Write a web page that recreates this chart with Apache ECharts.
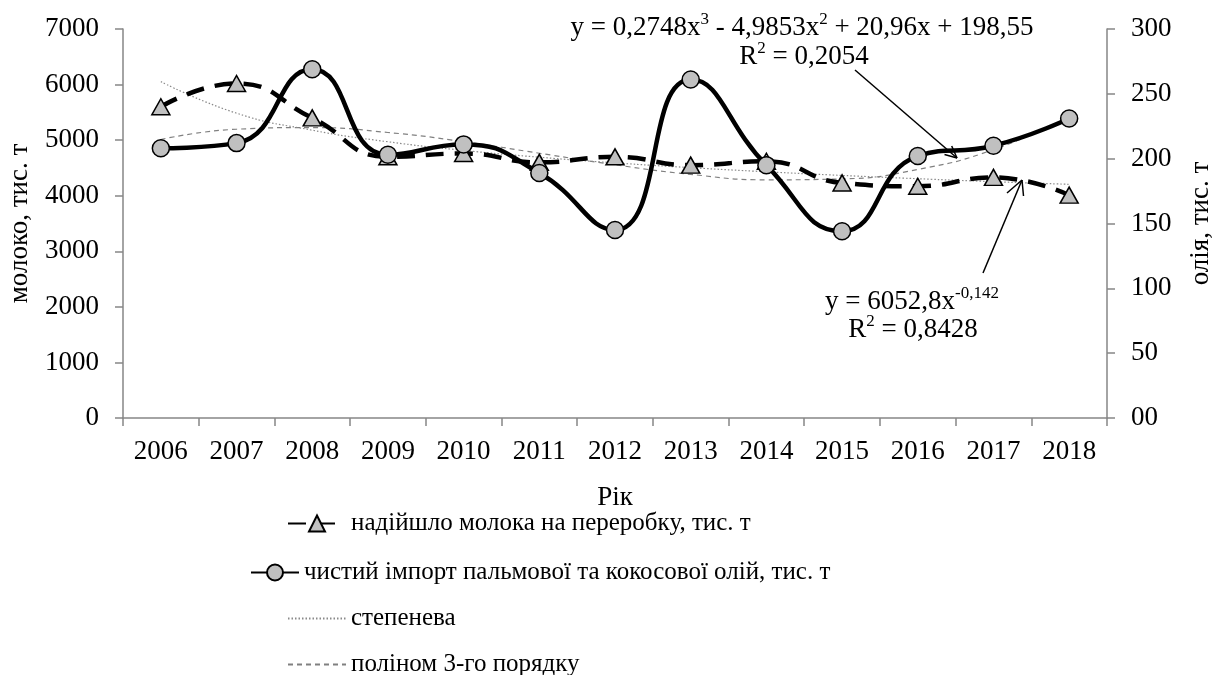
<!DOCTYPE html>
<html><head><meta charset="utf-8">
<script src="https://cdn.jsdelivr.net/npm/echarts@6/dist/echarts.min.js"></script>
<style>html,body{margin:0;padding:0;background:#fff}#c{width:1212px;height:675px}</style>
</head><body><div id="c"></div>
<script>
const years = ['2006','2007','2008','2009','2010','2011','2012','2013','2014','2015','2016','2017','2018'];
const milk = [5600, 6020, 5400, 4700, 4760, 4600, 4700, 4550, 4620, 4230, 4170, 4330, 4010];
const oil = [208, 212, 269, 203, 211, 189, 145, 261, 195, 144, 202, 210, 231];
const powerTrend = [6053, 5485, 5179, 4971, 4816, 4693, 4591, 4505, 4431, 4365, 4306, 4253, 4205];
const polyTrend = [214.8, 222.7, 224.0, 220.2, 213.1, 204.2, 195.3, 187.9, 183.7, 184.4, 191.7, 207.0, 232.3];
const leftTicks = ['0','1000','2000','3000','4000','5000','6000','7000'];
const rightTicks = ['00','50','100','150','200','250','300'];
const names = ['надійшло молока на переробку, тис. т', 'чистий імпорт пальмової та кокосової олій, тис. т', 'степенева', 'поліном 3-го порядку'];

const FF = 'Liberation Serif';
const FS = 27;
const axisGray = '#868686';
const chart = echarts.init(document.getElementById('c'), null, {renderer: 'canvas'});

function legendRow(name, left, top, w, hideSymbol) {
  const l = {
    show: true, orient: 'horizontal', left: left, top: top, padding: 0,
    itemWidth: w, itemHeight: 20, itemGap: 0, selectedMode: false,
    data: [name],
    textStyle: {fontFamily: FF, fontSize: 25, color: '#000'}
  };
  if (hideSymbol) l.itemStyle = {opacity: 0, borderWidth: 0, color: 'rgba(0,0,0,0)'};
  return l;
}
const rich = {
  m: {fontFamily: FF, fontSize: FS, fill: '#000', lineHeight: 30, verticalAlign: 'bottom'},
  s: {fontFamily: FF, fontSize: 17, fill: '#000', lineHeight: 24, verticalAlign: 'top'}
};
function eqText(t, x, y) {
  return {type: 'text', x: x, y: y, z: 100, style: {text: t, align: 'center', verticalAlign: 'middle', rich: rich, fontFamily: FF, fontSize: FS, fill: '#000'}};
}
function seg(x1, y1, x2, y2) {
  return {type: 'line', z: 100, shape: {x1: x1, y1: y1, x2: x2, y2: y2}, style: {stroke: '#000', lineWidth: 1.5}};
}

const option = {
  animation: false,
  backgroundColor: '#fff',
  textStyle: {fontFamily: FF},
  grid: {left: 123, right: 105, top: 29, bottom: 257, containLabel: false, outerBoundsMode: 'none'},
  legend: [
    legendRow(names[0], 287, 511, 58, false),
    legendRow(names[1], 250, 560, 48, false),
    legendRow(names[2], 287, 606, 58, true),
    legendRow(names[3], 287, 652, 58, true)
  ],
  xAxis: {
    type: 'category', data: years, boundaryGap: true,
    name: 'Рік', nameLocation: 'middle', nameGap: 66,
    nameTextStyle: {fontFamily: FF, fontSize: FS, color: '#000'},
    axisLine: {show: true, lineStyle: {color: axisGray, width: 1.5}},
    axisTick: {show: true, inside: false, length: 8, alignWithLabel: false, lineStyle: {color: axisGray, width: 1.5}},
    axisLabel: {fontFamily: FF, fontSize: FS, color: '#000', margin: 20, interval: 0},
    splitLine: {show: false}
  },
  yAxis: [
    {
      type: 'value', min: 0, max: 7000, interval: 1000, position: 'left',
      name: 'молоко, тис. т', nameLocation: 'middle', nameRotate: 90, nameGap: 90,
      nameTextStyle: {fontFamily: FF, fontSize: FS, color: '#000'},
      axisLine: {show: true, lineStyle: {color: axisGray, width: 1.5}},
      axisTick: {show: true, inside: false, length: 8, lineStyle: {color: axisGray, width: 1.5}},
      axisLabel: {fontFamily: FF, fontSize: FS, color: '#000', margin: 24, formatter: (v) => leftTicks[Math.round(v / 1000)]},
      splitLine: {show: false}
    },
    {
      type: 'value', min: 0, max: 300, interval: 50, position: 'right',
      name: 'олія, тис. т', nameLocation: 'middle', nameRotate: 90, nameGap: 80,
      nameTextStyle: {fontFamily: FF, fontSize: FS, color: '#000'},
      axisLine: {show: true, lineStyle: {color: axisGray, width: 1.5}},
      axisTick: {show: true, inside: false, length: 8, lineStyle: {color: axisGray, width: 1.5}},
      axisLabel: {fontFamily: FF, fontSize: FS, color: '#000', margin: 24, formatter: (v) => rightTicks[Math.round(v / 50)]},
      splitLine: {show: false}
    }
  ],
  series: [
    {
      name: names[3], type: 'line', yAxisIndex: 1, data: polyTrend, smooth: true,
      symbol: 'none', showSymbol: false, z: 2,
      itemStyle: {color: '#808080'},
      lineStyle: {color: '#808080', width: 1.2, type: [5, 4]}
    },
    {
      name: names[2], type: 'line', yAxisIndex: 0, data: powerTrend, smooth: true,
      symbol: 'none', showSymbol: false, z: 2,
      itemStyle: {color: '#8a8a8a'},
      lineStyle: {color: '#8a8a8a', width: 1.2, type: [1.5, 2]}
    },
    {
      name: names[0], type: 'line', yAxisIndex: 0, data: milk, smooth: 0.5,
      symbol: 'triangle', symbolSize: [18, 16], showAllSymbol: true, z: 3,
      itemStyle: {color: '#c0c0c0', borderColor: '#000', borderWidth: 1.5},
      lineStyle: {color: '#000', width: 4.5, type: [18, 11]}
    },
    {
      name: names[1], type: 'line', yAxisIndex: 1, data: oil, smooth: 0.5,
      symbol: 'circle', symbolSize: 17, showAllSymbol: true, z: 4,
      itemStyle: {color: '#c0c0c0', borderColor: '#000', borderWidth: 1.5},
      lineStyle: {color: '#000', width: 4.5, type: 'solid'}
    }
  ],
  graphic: [
    eqText('{m|y = 0,2748x}{s|3}{m| - 4,9853x}{s|2}{m| + 20,96x + 198,55}', 802, 26),
    eqText('{m|R}{s|2}{m| = 0,2054}', 804, 55),
    eqText('{m|y = 6052,8x}{s|-0,142}', 912, 300),
    eqText('{m|R}{s|2}{m| = 0,8428}', 913, 328),
    seg(855, 70, 957, 158), seg(957, 158, 951.7, 146), seg(957, 158, 944.5, 154.5),
    seg(983, 273, 1022, 180), seg(1022, 180, 1007, 193), seg(1022, 180, 1023.5, 196)
  ]
};
chart.setOption(option);
</script>
</body></html>
